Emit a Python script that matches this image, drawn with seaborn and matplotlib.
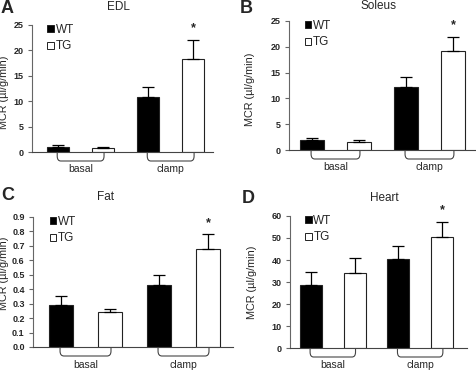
import pandas as pd
import matplotlib
matplotlib.use('Agg')
import matplotlib.pyplot as plt
import seaborn as sns
from matplotlib.patches import Patch, PathPatch
from matplotlib.path import Path

# Data (means and upper error, µl/g/min)
conditions = ['basal', 'clamp']
genotypes = ['WT', 'TG']
panel_letters = ['A', 'B', 'C', 'D']
panel_titles = ['EDL', 'Soleus', 'Fat', 'Heart']

edl_wt = [1.0, 10.8]
edl_wt_err = [0.4, 2.0]
edl_tg = [0.8, 18.4]
edl_tg_err = [0.1, 3.7]

soleus_wt = [2.0, 12.2]
soleus_wt_err = [0.4, 2.0]
soleus_tg = [1.6, 19.2]
soleus_tg_err = [0.3, 2.7]

fat_wt = [0.29, 0.43]
fat_wt_err = [0.06, 0.07]
fat_tg = [0.24, 0.68]
fat_tg_err = [0.02, 0.10]

heart_wt = [28.7, 40.5]
heart_wt_err = [6.0, 5.8]
heart_tg = [34.0, 50.5]
heart_tg_err = [7.0, 6.7]

# which bar (condition, genotype) gets a significance star
star_bar = ('clamp', 'TG')

yticks_list = [
    [0, 5, 10, 15, 20, 25],
    [0, 5, 10, 15, 20, 25],
    [0.0, 0.1, 0.2, 0.3, 0.4, 0.5, 0.6, 0.7, 0.8, 0.9],
    [0, 10, 20, 30, 40, 50, 60],
]
ytick_fmt = ['{:.0f}', '{:.0f}', '{:.1f}', '{:.0f}']

panels = [
    (edl_wt, edl_wt_err, edl_tg, edl_tg_err),
    (soleus_wt, soleus_wt_err, soleus_tg, soleus_tg_err),
    (fat_wt, fat_wt_err, fat_tg, fat_tg_err),
    (heart_wt, heart_wt_err, heart_tg, heart_tg_err),
]

# layout (pixels -> figure fractions), x limits, label positions
W, H = 477, 376
rects = [
    [32 / W, 1 - 152 / H, 181 / W, 127 / H],
    [289 / W, 1 - 150 / H, 187 / W, 129 / H],
    [33 / W, 1 - 347 / H, 200 / W, 130 / H],
    [290 / W, 1 - 348 / H, 177 / W, 132 / H],
]
xlims = [(-0.54, 1.47), (-0.495, 1.495), (-0.536, 1.505), (-0.49, 1.536)]
ylabel_px = [9, 255, 9.5, 257]
ylabel_y = [0.47, 0.47, 0.57, 0.5]
letter_pos = [(1, 0), (240, 0), (1, 187), (242, 190)]
title_pos = [(118, 7), (379, 6), (106, 197), (384, 198)]

sns.set_style('white')
plt.rcParams['font.family'] = ['Liberation Sans', 'DejaVu Sans']

fig = plt.figure(figsize=(W / 100, H / 100), dpi=100)
palette = {'WT': 'black', 'TG': 'white'}
spine_col = '#666666'

for i, (wt, wt_err, tg, tg_err) in enumerate(panels):
    df = pd.DataFrame({
        'condition': conditions * 2,
        'genotype': ['WT'] * 2 + ['TG'] * 2,
        'mcr': wt + tg,
        'err': wt_err + tg_err,
    })
    ax = fig.add_axes(rects[i])
    sns.barplot(data=df, x='condition', y='mcr', hue='genotype',
                order=conditions, hue_order=genotypes, palette=palette,
                saturation=1, width=1.0, gap=0.5, errorbar=None,
                edgecolor='#222222', linewidth=0.8, legend=False, ax=ax)

    # one-sided error bars on top of each bar
    bars = sorted(ax.patches, key=lambda p: p.get_x())
    keys = [(c, g) for c in conditions for g in genotypes]
    errs = [df[(df.condition == c) & (df.genotype == g)].err.iloc[0] for c, g in keys]
    xs = [p.get_x() + p.get_width() / 2 for p in bars]
    tops = [p.get_height() for p in bars]
    ax.errorbar(xs, tops, yerr=[[0] * 4, errs], fmt='none', ecolor='black',
                elinewidth=0.9, capsize=4, capthick=0.9, zorder=5)

    k = keys.index(star_bar)
    ax.annotate('*', (xs[k], tops[k] + errs[k]), xytext=(0, 4),
                textcoords='offset points', ha='center', va='bottom',
                fontsize=9, fontweight='bold')

    # curly brackets under each condition group
    ax_h = rects[i][3] * H
    d = 9 / ax_h
    for j in range(2):
        x0 = xs[2 * j] - 0.01
        x1 = xs[2 * j + 1] + 0.01
        r = 0.04
        verts = [(x0, 0), (x0, -d * 0.45), (x0, -d), (x0 + r, -d),
                 (x1 - r, -d), (x1, -d), (x1, -d * 0.45), (x1, 0)]
        codes = [Path.MOVETO, Path.LINETO, Path.CURVE3, Path.CURVE3,
                 Path.LINETO, Path.CURVE3, Path.CURVE3, Path.LINETO]
        ax.add_patch(PathPatch(Path(verts, codes), transform=ax.get_xaxis_transform(),
                               fill=False, edgecolor='#444444', lw=0.8, clip_on=False))

    yt = yticks_list[i]
    ax.set_ylim(yt[0], yt[-1])
    ax.set_yticks(yt)
    ax.set_yticklabels([ytick_fmt[i].format(v) for v in yt], fontweight='bold', fontsize=6.5)
    ax.set_xlim(*xlims[i])
    ax.tick_params(axis='x', length=0, pad=9, labelsize=7.5)
    ax.tick_params(axis='y', length=3, width=0.8, color=spine_col, pad=3, left=True)
    ax.set_xlabel('')
    ax.set_ylabel('MCR (µl/g/min)', fontsize=7.8)
    ax_w = rects[i][2] * W
    ax.yaxis.set_label_coords((ylabel_px[i] - rects[i][0] * W) / ax_w, ylabel_y[i])
    sns.despine(ax=ax)
    ax.spines['left'].set_color(spine_col)
    ax.spines['bottom'].set_color('#444444')
    ax.spines['left'].set_linewidth(0.8)
    ax.spines['bottom'].set_linewidth(0.8)

    handles = [Patch(facecolor=palette[g], edgecolor='#222222', linewidth=0.7) for g in genotypes]
    ax.legend(handles, genotypes, loc='upper left', bbox_to_anchor=(0.085, 1.01),
              frameon=False, fontsize=8.5, handlelength=0.55, handleheight=0.55,
              handletextpad=0.15, labelspacing=0.4, borderaxespad=0, borderpad=0)

    tx, ty = title_pos[i]
    fig.text(tx / W, 1 - ty / H, panel_titles[i], fontsize=8.5, ha='center', va='center')

    lx, ly = letter_pos[i]
    fig.text(lx / W, 1 - ly / H, panel_letters[i], fontsize=13, fontweight='bold',
             ha='left', va='top')

fig.savefig('out.png', dpi=100)
